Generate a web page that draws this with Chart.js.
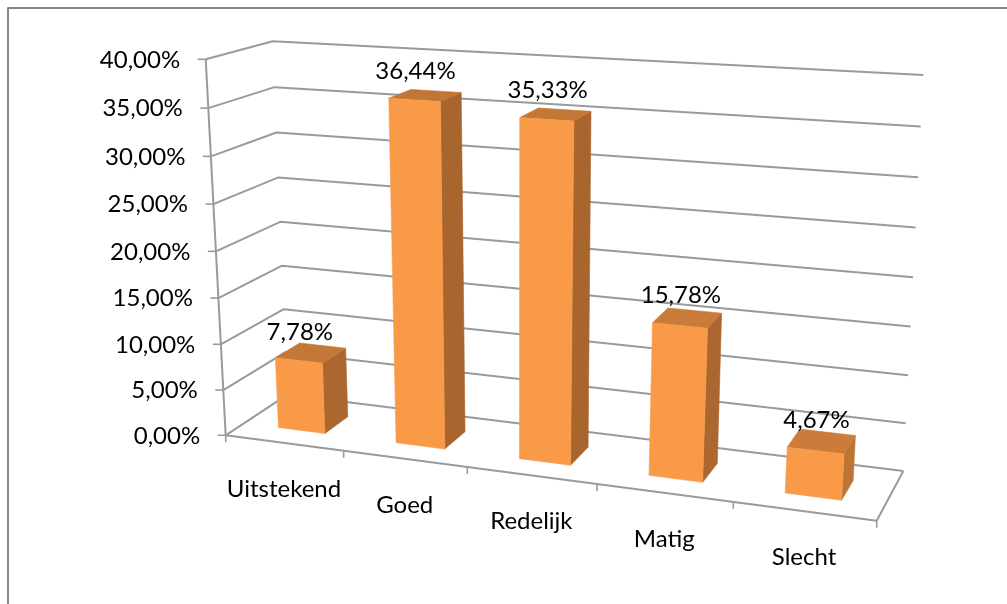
<!DOCTYPE html>
<html><head><meta charset="utf-8">
<script src="https://cdn.jsdelivr.net/npm/chart.js@4"></script>
<style>html,body{margin:0;padding:0;background:#fff;overflow:hidden}canvas{display:block}</style>
</head><body><canvas id="c" width="1007" height="604"></canvas>
<script>
const categories = ['Uitstekend','Goed','Redelijk','Matig','Slecht'];
const seriesValues = [7.78,36.44,35.33,15.78,4.67];
const valueMax = 40, valueStep = 5;
const fmt = v => v.toFixed(2).replace('.',',') + '%';

/* perspective box of the plot (view settings, not marks) */
const box = {
  fbl:[225.7,435.3], ftl:[205.7,59.3], bbl:[287.4,394.7], btl:[272.7,41.3],
  fbr:[876.7,520.7], ftr:[904,100],    bbr:[903.3,471],   btr:[923.3,75]
};
const warpU = 1.13, warpV = 1.044;
const depthFront = 0.3, depthBack = 0.7;
const warp = (t,a) => t/(a+(1-a)*t);
const lerp = (p,q,t) => [p[0]+(q[0]-p[0])*t, p[1]+(q[1]-p[1])*t];
function project(chart, px, py, w){
  const a = chart.chartArea;
  const u = warp((px-a.left)/(a.right-a.left), warpU);
  const v = warp((a.bottom-py)/(a.bottom-a.top), warpV);
  const fl = lerp(box.fbl,box.ftl,v), fr = lerp(box.fbr,box.ftr,v);
  const bl = lerp(box.bbl,box.btl,v), br = lerp(box.bbr,box.btr,v);
  return lerp(lerp(fl,fr,u), lerp(bl,br,u), w);
}
function line(ctx, pts, color, width){
  ctx.beginPath();
  pts.forEach((p,i)=> i?ctx.lineTo(p[0],p[1]):ctx.moveTo(p[0],p[1]));
  ctx.strokeStyle=color; ctx.lineWidth=width; ctx.lineJoin='round'; ctx.stroke();
}
function face(ctx, pts, fill){
  ctx.beginPath();
  pts.forEach((p,i)=> i?ctx.lineTo(p[0],p[1]):ctx.moveTo(p[0],p[1]));
  ctx.closePath(); ctx.fillStyle=fill; ctx.fill();
  ctx.strokeStyle=fill; ctx.lineWidth=0.6; ctx.stroke();
}
const GRID='#9a9a9a', FRAME='#868686', FRONT='#F99A49', TEXT='#000';
const SIDES=['#AB672F','#A9652E','#A9652E','#AB672F','#BD7536'];
const TOPS=['#C47837','#C27636','#C47837','#C97B39','#CB7C3A'];
const FONT_SIZE = 24, FONT_FAMILY = 'Lato';

const persp = {
  id:'persp',
  beforeDraw(chart){
    const ctx=chart.ctx, a=chart.chartArea, ys=chart.scales.y, xs=chart.scales.x;
    ctx.save(); ctx.fillStyle='#fff'; ctx.fillRect(0,0,chart.width,chart.height);
    line(ctx,[[8,604],[8,8],[1007,8]],FRAME,2);
    ctx.restore();
    ys.getLabelItems().forEach((it,i)=>{
      const p=project(chart,a.left,ys.getPixelForValue(ys.ticks[i].value),0);
      it.textOffset=0;
      it.options.textAlign='right'; it.options.textBaseline='middle';
      it.options.translation=[p[0]-25.5,p[1]+0.5];
    });
    xs.getLabelItems().forEach((it,i)=>{
      const p=project(chart,xs.getPixelForTick(i),a.bottom,0);
      it.textOffset=0;
      it.options.textAlign='center'; it.options.textBaseline='middle';
      it.options.translation=[p[0],p[1]+46];
    });
  },
  beforeDatasetsDraw(chart){
    const ctx=chart.ctx, a=chart.chartArea, ys=chart.scales.y;
    ctx.save();
    ys.ticks.forEach(t=>{
      const py=ys.getPixelForValue(t.value);
      const f=project(chart,a.left,py,0), b=project(chart,a.left,py,1), r=project(chart,a.right,py,1);
      line(ctx,[f,b,r],GRID,2);
      line(ctx,[[f[0]-8,f[1]],f],GRID,1.6);
    });
    line(ctx,[project(chart,a.left,a.top,0),project(chart,a.left,a.bottom,0)],GRID,2);
    line(ctx,[project(chart,a.left,a.bottom,0),project(chart,a.right,a.bottom,0),project(chart,a.right,a.bottom,1)],GRID,2);
    for(let i=0;i<=categories.length;i++){
      const px=a.left+(a.right-a.left)*i/categories.length;
      const p=project(chart,px,a.bottom,0);
      line(ctx,[p,[p[0],p[1]+7]],GRID,1.6);
    }
    chart.getDatasetMeta(0).data.forEach((el,i)=>{
      const L=el.x-el.width/2, R=el.x+el.width/2, T=el.y, B=el.base;
      const P=(x,y,w)=>project(chart,x,y,w);
      face(ctx,[P(R,B,depthFront),P(R,B,depthBack),P(R,T,depthBack),P(R,T,depthFront)],SIDES[i]);
      face(ctx,[P(L,T,depthFront),P(R,T,depthFront),P(R,T,depthBack),P(L,T,depthBack)],TOPS[i]);
      face(ctx,[P(L,B,depthFront),P(R,B,depthFront),P(R,T,depthFront),P(L,T,depthFront)],FRONT);
    });
    ctx.restore();
    return false;
  },
  afterDraw(chart){
    const ctx=chart.ctx, a=chart.chartArea;
    ctx.save();
    ctx.font=FONT_SIZE+'px '+FONT_FAMILY; ctx.fillStyle=TEXT; ctx.textAlign='center'; ctx.textBaseline='middle';
    chart.getDatasetMeta(0).data.forEach((el,i)=>{
      const v=(a.bottom-el.y)/(a.bottom-a.top);
      const f=project(chart,el.x,el.y,depthFront), b=project(chart,el.x,el.y,depthBack);
      ctx.fillText(fmt(seriesValues[i]), f[0]+1, b[1]-11-10*v);
    });
    ctx.restore();
  }
};

new Chart(document.getElementById('c'),{
  type:'bar',
  data:{labels:categories,datasets:[{data:seriesValues,backgroundColor:FRONT,categoryPercentage:1,barPercentage:0.4}]},
  plugins:[persp],
  options:{
    responsive:false,animation:false,devicePixelRatio:1,
    layout:{padding:{left:120,top:60,right:130,bottom:60}},
    plugins:{legend:{display:false},tooltip:{enabled:false},title:{display:false}},
    scales:{
      x:{grid:{display:false},border:{display:false},
         ticks:{mirror:true,color:TEXT,font:{family:FONT_FAMILY,size:FONT_SIZE},autoSkip:false,maxRotation:0,minRotation:0}},
      y:{min:0,max:valueMax,grid:{display:false},border:{display:false},
         ticks:{mirror:true,stepSize:valueStep,color:TEXT,font:{family:FONT_FAMILY,size:FONT_SIZE},callback:v=>fmt(v)}}
    }
  }
});
</script></body></html>
